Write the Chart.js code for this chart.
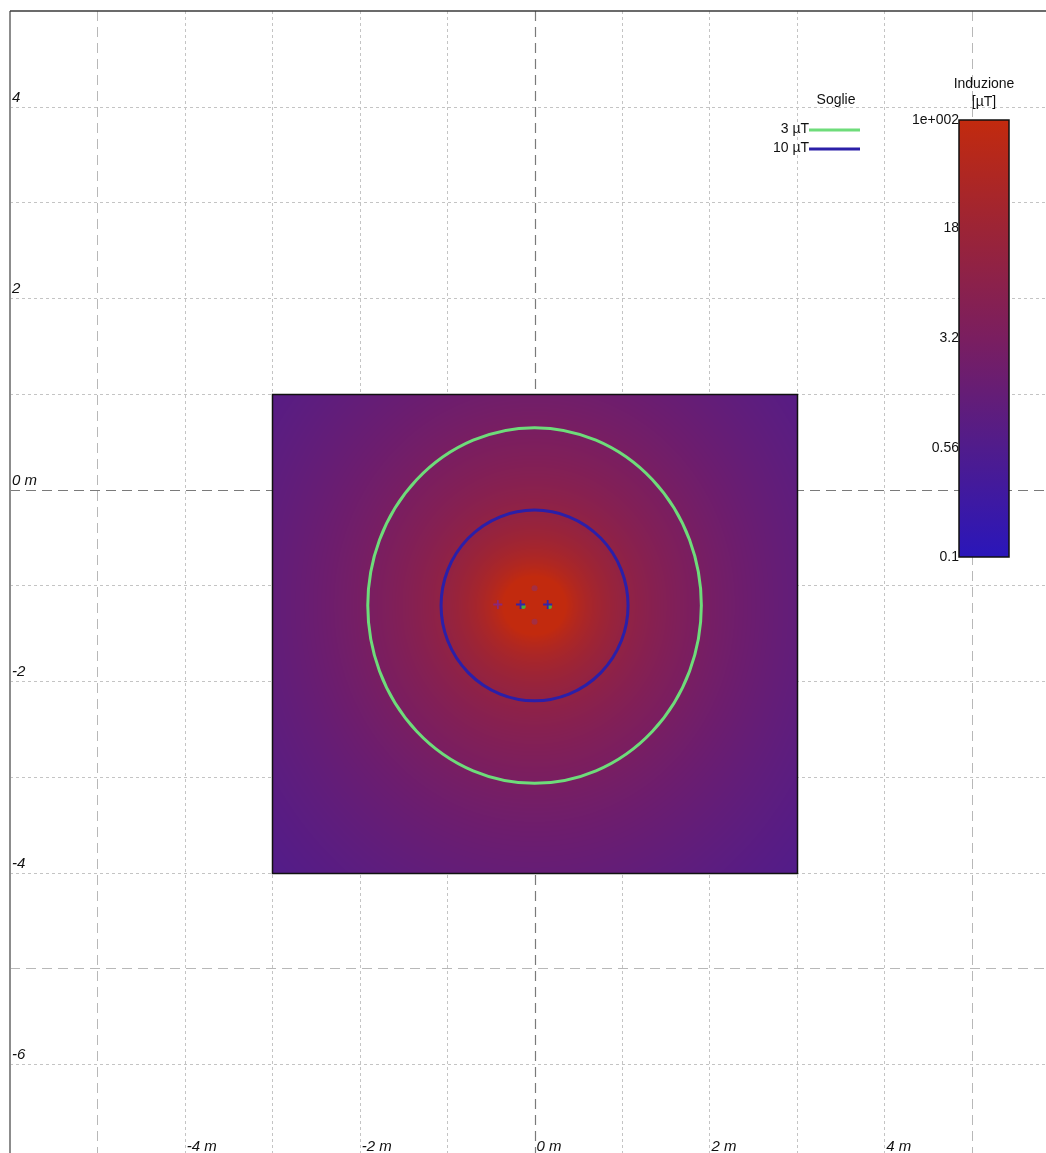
<!DOCTYPE html>
<html>
<head>
<meta charset="utf-8">
<title>Induzione magnetica</title>
<script src="https://cdn.jsdelivr.net/npm/chart.js@4/dist/chart.umd.min.js"></script>
<style>
  html, body { margin: 0; padding: 0; background: #ffffff; overflow: hidden; }
  #chart { display: block; }
</style>
</head>
<body>
<canvas id="chart" width="1046" height="1153" style="width:1046px;height:1153px"></canvas>
<script>
// ---- axes (metres) ----
const xGridValues = [-5, -4, -3, -2, -1, 0, 1, 2, 3, 4, 5];
const yGridValues = [4, 3, 2, 1, 0, -1, -2, -3, -4, -5, -6];
const xLabelValues = [-4, -2, 0, 2, 4];
const xLabelTexts = ['-4 m', '-2 m', '0 m', '2 m', '4 m'];
const yLabelValues = [4, 2, 0, -2, -4, -6];
const yLabelTexts = ['4', '2', '0 m', '-2', '-4', '-6'];

// ---- computed grid extent (metres) ----
const gridXRange = [-3, 3];
const gridYRange = [-4, 1];

// ---- field centre and radial profiles of the induction (µT) ----
const fieldCentre = [0, -1.21];
const profileRadius     = [0,   0.25, 0.5,  0.75, 1.0,  1.5,  2.0,  2.5,  3.0,  3.5,  4.0,  4.5,  5.0];
const profileHorizontal = [300, 205,  48.6, 20.9, 11.5, 4.94, 2.72, 1.71, 1.17, 0.85, 0.64, 0.50, 0.40];
const profileVertical   = [300, 144,  37.8, 17.3, 9.92, 4.54, 2.60, 1.69, 1.19, 0.88, 0.68, 0.55, 0.44];

// ---- threshold contours ----
const thresholdValues = [3, 10];
const thresholdLabels = ['3 µT', '10 µT'];
const thresholdColors = ['#6edc7a', '#2b1fa8'];

// ---- colour scale (log, µT) ----
const colorbarTicks = [100, 18, 3.2, 0.56, 0.1];
const colorbarLabels = ['1e+002', '18', '3.2', '0.56', '0.1'];
const colorbarMin = 0.1;
const colorbarMax = 100;
const colorStops = [
  [0.00, [42, 22, 186]],
  [0.25, [80, 28, 140]],
  [0.50, [122, 30, 96]],
  [0.75, [156, 36, 54]],
  [1.00, [194, 42, 14]]
];

// ---- conductors ----
const conductorX = [-0.42, -0.16, 0.15];
const conductorY = [-1.20, -1.20, -1.20];
const conductorColors = ['rgba(130,40,140,0.85)', '#3424a8', '#3424a8'];
const groundX = [-0.13, 0.17];
const groundY = [-1.22, -1.22];
const auxX = [0, 0];
const auxY = [-1.03, -1.38];

// log10 of the induction along one profile at distance r
function profileLog(r, radii, vals) {
  const lv = vals.map(v => Math.log10(v));
  const n = radii.length;
  let i = 0;
  while (i < n - 2 && r > radii[i + 1]) i++;
  const r0 = radii[i], r1 = radii[i + 1];
  let t;
  if (r0 === 0) t = Math.min(Math.max(r / r1, 0), 1);
  else t = Math.log(Math.max(r, 1e-6) / r0) / Math.log(r1 / r0);
  return lv[i] + (lv[i + 1] - lv[i]) * t;
}

// distance at which a profile falls to a given value
function profileRadiusFor(value, radii, vals) {
  for (let i = 1; i < radii.length - 1; i++) {
    if (vals[i] >= value && vals[i + 1] <= value) {
      const t = Math.log(vals[i] / value) / Math.log(vals[i] / vals[i + 1]);
      return radii[i] * Math.exp(t * Math.log(radii[i + 1] / radii[i]));
    }
  }
  return null;
}

function fieldLog(x, y) {
  const dx = x - fieldCentre[0], dy = y - fieldCentre[1];
  const r = Math.hypot(dx, dy);
  const c2 = r > 0 ? (dx * dx) / (r * r) : 0.5;
  return c2 * profileLog(r, profileRadius, profileHorizontal) +
         (1 - c2) * profileLog(r, profileRadius, profileVertical);
}

function colourAt(t) {
  t = Math.min(1, Math.max(0, t));
  for (let i = 0; i < colorStops.length - 1; i++) {
    const [a, ca] = colorStops[i], [b, cb] = colorStops[i + 1];
    if (t <= b) {
      const u = (t - a) / (b - a);
      return [0, 1, 2].map(k => Math.round(ca[k] + (cb[k] - ca[k]) * u));
    }
  }
  return colorStops[colorStops.length - 1][1];
}

const logMin = Math.log10(colorbarMin), logMax = Math.log10(colorbarMax);

const fieldMapPlugin = {
  id: 'fieldMap',
  beforeDatasetsDraw(chart) {
    const { ctx, chartArea: a, scales: { x: sx, y: sy } } = chart;
    ctx.save();
    // grid
    const gridLine = (v, vertical) => {
      const major = v % 5 === 0;
      ctx.beginPath();
      if (v === 0) { ctx.strokeStyle = '#7a7a7a'; ctx.setLineDash([10, 6]); ctx.lineWidth = 1.2; }
      else if (major) { ctx.strokeStyle = '#b8b8b8'; ctx.setLineDash([10, 6]); ctx.lineWidth = 1; }
      else { ctx.strokeStyle = '#c4c4c4'; ctx.setLineDash([3, 3]); ctx.lineWidth = 1; }
      if (vertical) {
        const p = Math.round(sx.getPixelForValue(v)) + 0.5;
        ctx.moveTo(p, a.top); ctx.lineTo(p, a.bottom);
      } else {
        const p = Math.round(sy.getPixelForValue(v)) + 0.5;
        ctx.moveTo(a.left, p); ctx.lineTo(a.right, p);
      }
      ctx.stroke();
    };
    xGridValues.forEach(v => gridLine(v, true));
    yGridValues.forEach(v => gridLine(v, false));
    ctx.setLineDash([]);
    // frame
    ctx.strokeStyle = '#8c8c8c'; ctx.lineWidth = 2;
    ctx.beginPath(); ctx.moveTo(a.left, a.top); ctx.lineTo(a.left, a.bottom); ctx.stroke();
    ctx.strokeStyle = '#3a3a3a'; ctx.lineWidth = 1.5;
    ctx.beginPath(); ctx.moveTo(a.left, a.top); ctx.lineTo(a.right, a.top); ctx.stroke();

    // induction map
    const px0 = Math.round(sx.getPixelForValue(gridXRange[0]));
    const px1 = Math.round(sx.getPixelForValue(gridXRange[1]));
    const py0 = Math.round(sy.getPixelForValue(gridYRange[1]));
    const py1 = Math.round(sy.getPixelForValue(gridYRange[0]));
    const w = px1 - px0, h = py1 - py0;
    const off = document.createElement('canvas');
    off.width = w; off.height = h;
    const octx = off.getContext('2d');
    const img = octx.createImageData(w, h);
    for (let j = 0; j < h; j++) {
      const yv = sy.getValueForPixel(py0 + j + 0.5);
      for (let i = 0; i < w; i++) {
        const xv = sx.getValueForPixel(px0 + i + 0.5);
        const t = (fieldLog(xv, yv) - logMin) / (logMax - logMin);
        const c = colourAt(t);
        const k = (j * w + i) * 4;
        img.data[k] = c[0]; img.data[k + 1] = c[1]; img.data[k + 2] = c[2]; img.data[k + 3] = 255;
      }
    }
    octx.putImageData(img, 0, 0);
    ctx.drawImage(off, px0, py0);
    ctx.strokeStyle = '#111111'; ctx.lineWidth = 1.5;
    ctx.strokeRect(px0 + 0.5, py0 + 0.5, w, h);

    // threshold contours
    const cx = sx.getPixelForValue(fieldCentre[0]);
    const cy = sy.getPixelForValue(fieldCentre[1]);
    const kx = Math.abs(sx.getPixelForValue(1) - sx.getPixelForValue(0));
    const ky = Math.abs(sy.getPixelForValue(1) - sy.getPixelForValue(0));
    thresholdValues.forEach((v, idx) => {
      const rx = profileRadiusFor(v, profileRadius, profileHorizontal);
      const ry = profileRadiusFor(v, profileRadius, profileVertical);
      ctx.beginPath();
      ctx.ellipse(cx, cy, rx * kx, ry * ky, 0, 0, Math.PI * 2);
      ctx.strokeStyle = thresholdColors[idx];
      ctx.lineWidth = 3;
      ctx.stroke();
    });
    ctx.restore();
  },
  afterDatasetsDraw(chart) {
    const { ctx, chartArea: a, scales: { x: sx, y: sy } } = chart;
    ctx.save();
    // axis labels inside the plot
    ctx.fillStyle = '#111111';
    ctx.font = 'italic 15px "Liberation Sans", Arial, sans-serif';
    ctx.textAlign = 'left';
    ctx.textBaseline = 'alphabetic';
    yLabelValues.forEach((v, i) => {
      ctx.fillText(yLabelTexts[i], a.left + 2, sy.getPixelForValue(v) - 5);
    });
    xLabelValues.forEach((v, i) => {
      ctx.fillText(xLabelTexts[i], sx.getPixelForValue(v) + 2, a.bottom - 2);
    });

    // thresholds legend
    ctx.font = '14px "Liberation Sans", Arial, sans-serif';
    ctx.textAlign = 'center';
    ctx.textBaseline = 'middle';
    ctx.fillText('Soglie', 836, 100);
    thresholdLabels.forEach((lab, i) => {
      const y = 130 + i * 19;
      ctx.textAlign = 'right';
      ctx.fillText(lab, 809, y - 1);
      ctx.beginPath();
      ctx.moveTo(809, y); ctx.lineTo(860, y);
      ctx.strokeStyle = thresholdColors[i];
      ctx.lineWidth = 3;
      ctx.stroke();
    });

    // colour bar
    const bx = 959, bw = 50, bTop = 120, bBottom = 557;
    const grad = ctx.createLinearGradient(0, bBottom, 0, bTop);
    colorStops.forEach(([t, c]) => grad.addColorStop(t, `rgb(${c[0]},${c[1]},${c[2]})`));
    ctx.fillStyle = grad;
    ctx.fillRect(bx, bTop, bw, bBottom - bTop);
    ctx.strokeStyle = '#111111'; ctx.lineWidth = 1.5;
    ctx.strokeRect(bx, bTop, bw, bBottom - bTop);
    ctx.fillStyle = '#111111';
    ctx.textAlign = 'center';
    ctx.fillText('Induzione', bx + bw / 2, 84);
    ctx.fillText('[µT]', bx + bw / 2, 102);
    ctx.textAlign = 'right';
    colorbarTicks.forEach((v, i) => {
      const t = (Math.log10(v) - logMin) / (logMax - logMin);
      const y = bBottom - t * (bBottom - bTop);
      ctx.fillText(colorbarLabels[i], bx, y);
    });
    ctx.restore();
  }
};

const toPoints = (xs, ys) => xs.map((x, i) => ({ x, y: ys[i] }));

new Chart(document.getElementById('chart'), {
  type: 'scatter',
  data: {
    datasets: [
      {
        label: 'aux',
        data: toPoints(auxX, auxY),
        pointStyle: 'circle',
        pointRadius: 3,
        pointBorderWidth: 0,
        backgroundColor: 'rgba(140,50,110,0.55)'
      },
      {
        label: 'conduttori',
        data: toPoints(conductorX, conductorY),
        pointStyle: 'cross',
        pointRadius: 4.5,
        pointBorderWidth: 1.8,
        borderColor: conductorColors
      },
      {
        label: 'terra',
        data: toPoints(groundX, groundY),
        pointStyle: 'circle',
        pointRadius: 2.5,
        pointBorderWidth: 0,
        backgroundColor: '#4cae3a'
      }
    ]
  },
  options: {
    responsive: false,
    maintainAspectRatio: false,
    animation: false,
    events: [],
    layout: { autoPadding: false, padding: { left: 10, top: 11, right: 0, bottom: 0 } },
    plugins: { legend: { display: false }, tooltip: { enabled: false } },
    scales: {
      x: { type: 'linear', min: -6, max: 5.85, display: false },
      y: { type: 'linear', min: -6.93, max: 5, display: false }
    }
  },
  plugins: [fieldMapPlugin]
});
</script>
</body>
</html>
